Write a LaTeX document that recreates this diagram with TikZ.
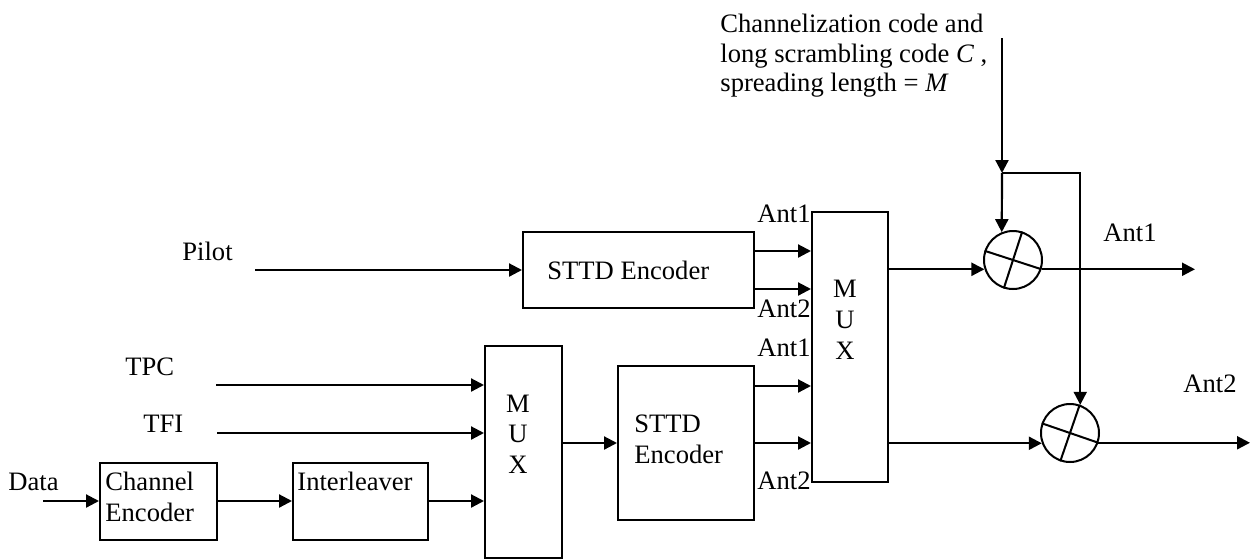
\documentclass[tikz,border=0pt]{standalone}
\usepackage{fontspec}
\setmainfont{Liberation Serif}
\usetikzlibrary{arrows.meta,calc}
\begin{document}
\begin{tikzpicture}[x=0.5pt,y=-0.5pt,
  every node/.style={font=\fontsize{13.3}{15}\selectfont},
  txt/.style={anchor=base west,inner sep=0pt},
  box/.style={draw,line width=1pt,inner sep=0pt,rectangle},
  mulc/.style={draw,line width=1pt,circle,minimum size=29pt,inner sep=0pt},
  arr/.style={line width=1.1pt,-{Triangle[length=6.5pt,width=6.5pt]}},
  ln/.style={line width=1pt}]
\useasboundingbox (0,0) rectangle (1250,559);
% boxes
\node[box,minimum width=115.5pt,minimum height=38pt] (sttd1) at (638.5,270) {};
\node[box,minimum width=38pt,minimum height=135pt] (mux2) at (850,347) {};
\node[box,minimum width=38.5pt,minimum height=106pt] (mux1) at (523.5,452) {};
\node[box,minimum width=68pt,minimum height=77pt] (sttd2) at (686,443) {};
\node[box,minimum width=58.5pt,minimum height=38.5pt] (chenc) at (158.5,501) {};
\node[box,minimum width=67.5pt,minimum height=38.5pt] (intl) at (360.5,501) {};
\node[mulc] (mul1) at (1013,260) {};
\node[mulc] (mul2) at (1070,433) {};
\draw[ln] (mul1.162) -- (mul1.-18) (mul1.72) -- (mul1.252);
\draw[ln] (mul2.161) -- (mul2.-19) (mul2.71) -- (mul2.251);
% texts
\node[txt] (t1) at (720,32) {Channelization code and};
\node[txt] (t2) at (720,62) {long scrambling code \textit{C} ,};
\node[txt] (t3) at (720,91) {spreading length = \textit{M}};
\node[txt] (lpilot) at (182,260) {Pilot};
\node[txt] (ltpc) at (125,375) {TPC};
\node[txt] (ltfi) at (143,432) {TFI};
\node[txt] (ldata) at (8,490) {Data};
\node[txt] (lch1) at (105,490) {Channel};
\node[txt] (lch2) at (105,521) {Encoder};
\node[txt] (lint) at (297,490) {Interleaver};
\node[txt] (ls1) at (547,279) {STTD Encoder};
\node[txt] (ls2a) at (634,432) {STTD};
\node[txt] (ls2b) at (634,463) {Encoder};
\node[anchor=base,inner sep=0pt] (m1) at (518,412) {M};
\node[anchor=base,inner sep=0pt] (m2) at (518,442) {U};
\node[anchor=base,inner sep=0pt] (m3) at (518,473) {X};
\node[anchor=base,inner sep=0pt] (n1) at (845,297) {M};
\node[anchor=base,inner sep=0pt] (n2) at (845,328) {U};
\node[anchor=base,inner sep=0pt] (n3) at (845,359) {X};
\node[txt,anchor=base east] (a1) at (811,222) {Ant1};
\node[txt,anchor=base east] (a2) at (811,317) {Ant2};
\node[txt,anchor=base east] (a3) at (811,356) {Ant1};
\node[txt,anchor=base east] (a4) at (811,489) {Ant2};
\node[txt] (o1) at (1103,241) {Ant1};
\node[txt] (o2) at (1183,392) {Ant2};
% coordinates
\coordinate (ctop) at (1002,38);
\coordinate (junc) at (1002,173);
\coordinate (pin) at (255,270);
\coordinate (tpcin) at (216,385);
\coordinate (tfiin) at (217,433);
\coordinate (datain) at (43,501);
\coordinate (out1) at (1195,269);
\coordinate (out2) at (1250,443);
% connectors
\draw[arr] (ctop) -- (junc);
\draw[arr] (junc) -- (mul1.112);
\draw[arr] (junc) -| (mul2.70);
\draw[arr] (pin) -- (sttd1.west);
\draw[arr] ([yshift=9.5pt]sttd1.east) -- ([yshift=9.5pt]sttd1.east -| mux2.west);
\draw[arr] ([yshift=-9.5pt]sttd1.east) -- ([yshift=-9.5pt]sttd1.east -| mux2.west);
\draw[arr] (mux2.east |- mul1.198) -- (mul1.198);
\draw[arr] (mul1.-18) -- (mul1.-18 -| out1);
\draw[arr] (mux2.east |- mul2.200) -- (mul2.200);
\draw[arr] (mul2.-19) -- (mul2.-19 -| out2);
\draw[arr] (tpcin) -- (tpcin -| mux1.west);
\draw[arr] (tfiin) -- (tfiin -| mux1.west);
\draw[arr] (datain) -- (chenc.west);
\draw[arr] (chenc.east) -- (intl.west);
\draw[arr] (intl.east) -- (intl.east -| mux1.west);
\draw[arr] (mux1.east |- sttd2.west) -- (sttd2.west);
\draw[arr] ([yshift=28.5pt]sttd2.east) -- ([yshift=28.5pt]sttd2.east -| mux2.west);
\draw[arr] (sttd2.east) -- (sttd2.east -| mux2.west);
\end{tikzpicture}
\end{document}
